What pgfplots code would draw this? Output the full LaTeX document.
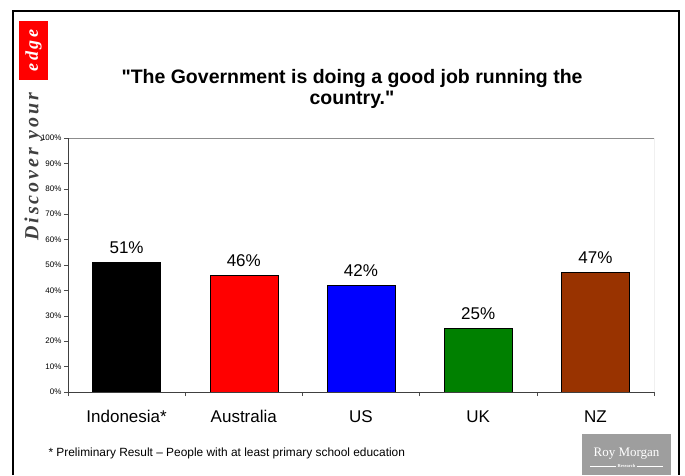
\documentclass[border=0pt]{standalone}
\usepackage{pgfplots}
\pgfplotsset{compat=1.18}
\usepackage{fontspec}
\setmainfont{Liberation Sans}
\newfontfamily\titlefont[Ligatures=TeXOff]{Liberation Sans}
\newfontfamily\serifbi[LetterSpace=15]{Liberation Serif}
\newfontfamily\rmserif{Liberation Serif}
\definecolor{nzbrown}{RGB}{153,51,0}
\definecolor{ukgreen}{RGB}{0,128,0}
\begin{document}
\begin{tikzpicture}[x=1pt,y=1pt]
\useasboundingbox (0,0) rectangle (685,475);
\fill[white] (0,0) rectangle (685,475);
% frame
\draw[line width=2pt,black] (13,0) -- (13,464) -- (679,464) -- (679,0);
% discover your edge
\fill[red] (19,395) rectangle (48,454);
\node[rotate=90,text=white,font=\serifbi\bfseries\itshape\fontsize{18}{18}\selectfont] at (33.5,424.5) {edge};
\node[rotate=90,text=black!75,font=\serifbi\bfseries\itshape\fontsize{20}{20}\selectfont] at (33.5,308) {Discover your};
% title
\node[align=center,font=\titlefont\bfseries\fontsize{19.5}{21}\selectfont] at (352,386.5) {"The Government is doing a good job running the\\country."};
\begin{axis}[
  at={(68pt,83pt)}, anchor=south west, scale only axis,
  width=586pt, height=254pt,
  xmin=-0.5, xmax=4.5, ymin=0, ymax=100,
  axis line style={draw=none},
  ytick={0,10,...,100},
  yticklabel={\pgfmathprintnumber{\tick}\%},
  /pgf/number format/assume math mode=true,
  yticklabel style={font=\fontsize{8}{8}\selectfont, xshift=1pt},
  xtick={0,1,2,3,4},
  xticklabels={Indonesia*,Australia,US,UK,NZ},
  xticklabel style={font=\fontsize{17}{18}\selectfont, yshift=-11pt},
  minor xtick={-0.5,0.5,1.5,2.5,3.5,4.5},
  major x tick style={draw=none},
  tick align=outside,
  xtick pos=bottom, ytick pos=left,
  major tick length=4pt, minor tick length=4pt,
  tick style={black!70, line width=0.6pt},
  ybar, bar width=68pt, bar shift=0pt,
  nodes near coords={\pgfmathprintnumber{\pgfplotspointmeta}\%},
  nodes near coords style={font=\fontsize{17}{18}\selectfont, black, yshift=5pt},
]
\draw[black!45, line width=0.8pt] (rel axis cs:0,1) -- (rel axis cs:1,1) -- (rel axis cs:1,0);
\addplot[fill=black, draw=black, line width=0.5pt] coordinates {(0,51)};
\addplot[fill=red, draw=black, line width=0.5pt] coordinates {(1,46)};
\addplot[fill=blue, draw=black, line width=0.5pt] coordinates {(2,42)};
\addplot[fill=ukgreen, draw=black, line width=0.5pt] coordinates {(3,25)};
\addplot[fill=nzbrown, draw=black, line width=0.5pt] coordinates {(4,47)};
\draw[black!75, line width=0.8pt] (rel axis cs:0,1) -- (rel axis cs:0,0) -- (rel axis cs:1,0);
\end{axis}
% footnote
\node[anchor=west,font=\fontsize{11.9}{12}\selectfont] at (45,22) {* Preliminary Result -- People with at least primary school education};
% logo
\fill[black!38] (582,0) rectangle (671,41);
\node[text=white,font=\rmserif\fontsize{13}{13}\selectfont] at (626.5,21) {Roy Morgan};
\node[text=white,font=\rmserif\bfseries\fontsize{4.5}{5}\selectfont,fill=black!38,inner sep=1pt] (r) at (626.5,9) {Research};
\draw[white,line width=0.4pt] (590,9) -- (r.west) (r.east) -- (663,9);
\end{tikzpicture}
\end{document}
